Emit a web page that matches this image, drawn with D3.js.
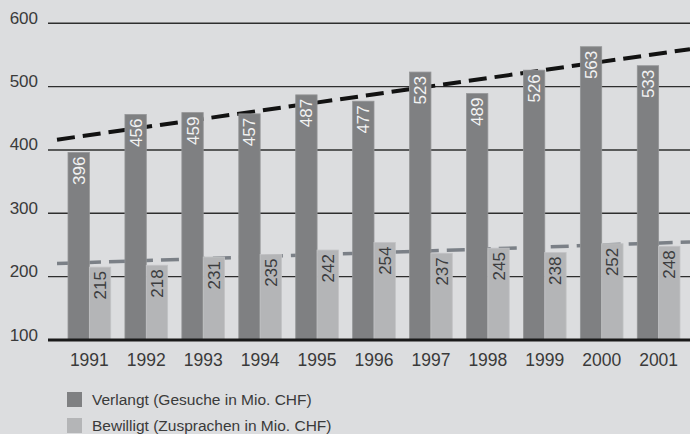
<!DOCTYPE html>
<html>
<head>
<meta charset="utf-8">
<script src="https://cdn.jsdelivr.net/npm/d3@7"></script>
<style>
    html, body { margin: 0; padding: 0; background: #dcdddf; }
    #content { width: 690px; height: 434px; }
    text { font-family: 'Liberation Sans', Arial, sans-serif; }
</style>
</head>
<body>
<div id="content"></div>
<script>
'use strict';

// Daten aus der Grafik
var years = ['1991', '1992', '1993', '1994', '1995', '1996', '1997', '1998', '1999', '2000', '2001']
var verlangt = [396, 456, 459, 457, 487, 477, 523, 489, 526, 563, 533]
var bewilligt = [215, 218, 231, 235, 242, 254, 237, 245, 238, 252, 248]
var yTicks = [100, 200, 300, 400, 500, 600]
var seriesNames = ['Verlangt (Gesuche in Mio. CHF)', 'Bewilligt (Zusprachen in Mio. CHF)']
var seriesColors = ['#7f8082', '#b4b5b7']
var labelColors = ['#f2f2f2', '#3c3d3f']
var trendColors = ['#121212', '#7b8087']

var ChartView = function() {
    var self = this
    self.width = 690
    self.height = 434
    self.svg = d3.select('#content').append('svg')
        .attr('width', self.width).attr('height', self.height)
    self.svg.append('rect').attr('width', self.width).attr('height', self.height).style('fill', '#dcdddf')
    self.init()
}

ChartView.prototype.init = function() {
    var self = this
    self.x = d3.scaleBand().domain(years).range([60.9, 687.1]).paddingInner(0.25).paddingOuter(0.125)
    self.xs = d3.scaleBand().domain([0, 1]).range([0, self.x.bandwidth()])
    self.y = d3.scaleLinear().domain([100, 600]).range([340, 23.3])
    self.drawGrid()
    self.drawTrend(verlangt, 0)
    self.drawTrend(bewilligt, 1)
    self.drawBars()
    self.drawLegend()
}

ChartView.prototype.drawGrid = function() {
    var self = this
    var g = self.svg.append('g')
    g.selectAll('line.grid').data(yTicks.slice(1)).enter().append('line')
        .attr('x1', 48).attr('x2', self.width)
        .attr('y1', function(d) { return self.y(d) }).attr('y2', function(d) { return self.y(d) })
        .style('stroke', '#2e2e2e').style('stroke-width', 1.4)
    g.selectAll('text.ytick').data(yTicks).enter().append('text')
        .attr('x', 38).attr('y', function(d) { return self.y(d) + 0.5 })
        .attr('text-anchor', 'end')
        .style('font-size', '17px').style('fill', '#3a3a3a')
        .text(function(d) { return d })
}

ChartView.prototype.drawTrend = function(values, k) { // lineare Regression
    var self = this
    var n = values.length
    var mx = (n - 1) / 2
    var my = d3.mean(values)
    var sxy = 0, sxx = 0
    values.forEach(function(v, i) { sxy += (i - mx) * (v - my); sxx += (i - mx) * (i - mx) })
    var slope = sxy / sxx
    var c0 = self.x(years[0]) + self.x.bandwidth() / 2
    var step = self.x.step()
    var xa = self.x(years[0]) - 11
    var xb = self.width
    var ends = [xa, xb].map(function(px) {
        var t = (px - c0) / step
        return [px, self.y(my + slope * (t - mx))]
    })
    self.svg.append('path')
        .attr('d', d3.line()(ends))
        .style('fill', 'none')
        .style('stroke', trendColors[k])
        .style('stroke-width', k == 0 ? 4 : 3.5)
        .style('stroke-dasharray', '18,8')
}

ChartView.prototype.drawBars = function() {
    var self = this
    var data = years.map(function(yr, i) { return { year: yr, vals: [verlangt[i], bewilligt[i]] } })
    var groups = self.svg.selectAll('g.year').data(data).enter().append('g')
        .attr('class', 'year')
        .attr('transform', function(d) { return 'translate(' + self.x(d.year) + ',0)' })
    var bars = groups.selectAll('g.bar').data(function(d) {
        return d.vals.map(function(v, k) { return { k: k, v: v } })
    }).enter().append('g')
    bars.append('rect')
        .attr('x', function(d) { return self.xs(d.k) })
        .attr('width', self.xs.bandwidth())
        .attr('y', function(d) { return self.y(d.v) })
        .attr('height', function(d) { return self.y(100) - self.y(d.v) })
        .style('fill', function(d) { return seriesColors[d.k] })
        .style('stroke', function(d) { return d.k == 0 ? '#939496' : '#c2c3c5' })
        .style('stroke-width', 0.8)
    bars.append('text')
        .attr('transform', function(d) {
            var cx = self.xs(d.k) + self.xs.bandwidth() / 2 + 6
            var cy = self.y(d.v) + 4
            return 'translate(' + cx + ',' + cy + ') rotate(-90)'
        })
        .attr('text-anchor', 'end')
        .style('font-size', '17px')
        .style('fill', function(d) { return labelColors[d.k] })
        .text(function(d) { return d.v })

    // Grundlinie und Jahreszahlen
    self.svg.append('line').attr('x1', 48).attr('x2', self.width)
        .attr('y1', self.y(100)).attr('y2', self.y(100))
        .style('stroke', '#1a1a1a').style('stroke-width', 2.8)
    self.svg.selectAll('text.xtick').data(years).enter().append('text')
        .attr('x', function(d) { return self.x(d) + self.x.bandwidth() / 2 })
        .attr('y', 365.7)
        .attr('text-anchor', 'middle')
        .style('font-size', '17.5px').style('fill', '#3a3a3a')
        .text(function(d) { return d })
}

ChartView.prototype.drawLegend = function() {
    var self = this
    var lg = self.svg.selectAll('g.legend').data(seriesNames).enter().append('g')
        .attr('transform', function(d, i) { return 'translate(67,' + (392 + i * 26) + ')' })
    lg.append('rect').attr('width', 15).attr('height', 15)
        .style('fill', function(d, i) { return seriesColors[i] })
    lg.append('text').attr('x', 25).attr('y', 13)
        .style('font-size', '15.5px').style('fill', '#3a3a3a')
        .text(function(d) { return d })
}

var chart = new ChartView()
</script>
</body>
</html>
